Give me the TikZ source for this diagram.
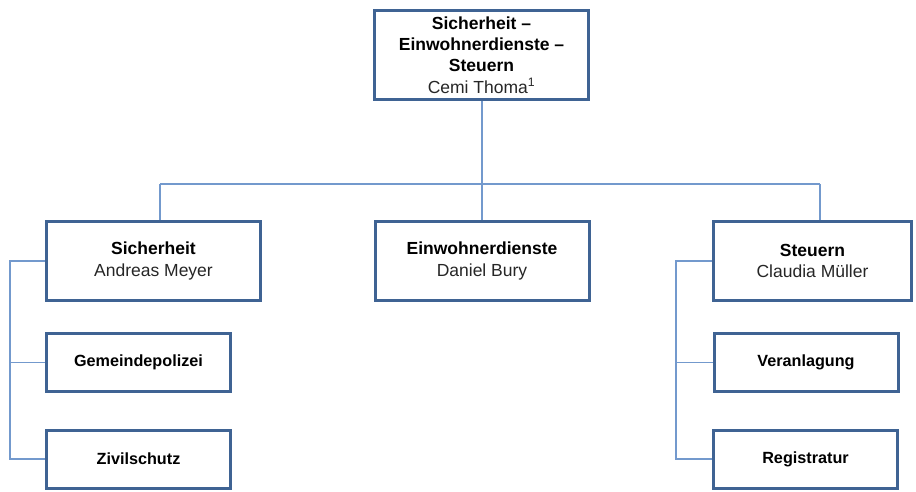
\documentclass[tikz,border=0pt]{standalone}
\usepackage{fontspec}
\setmainfont{Liberation Sans}
\usepackage{tikz}
\usetikzlibrary{positioning,calc}
\definecolor{boxblue}{HTML}{3F6393}
\definecolor{linkblue}{HTML}{7399CD}
\definecolor{nametext}{HTML}{262626}

\begin{document}
\begin{tikzpicture}[x=1pt,y=-1pt,every node/.style={font=\fontsize{17.5}{21.3}\selectfont,align=center,inner sep=0pt},unit/.style={draw=boxblue,line width=3pt,minimum width=214pt,minimum height=79pt},sub/.style={draw=boxblue,line width=3pt,minimum width=184pt,minimum height=58pt,font=\fontsize{16.2}{20}\selectfont\bfseries},link/.style={draw=linkblue,line width=1.2pt}]
\useasboundingbox (0,0) rectangle (916,492);
\node[unit,minimum height=89pt] (head) at (481.5,55) {\textbf{Sicherheit –}\\\textbf{Einwohnerdienste –}\\\textbf{Steuern}\\\textcolor{nametext}{Cemi Thoma\textsuperscript{1}}};
\node[unit] (sich) at (153.5,261) {\textbf{Sicherheit}\\\textcolor{nametext}{Andreas Meyer}};
\node[unit] (einw) at (482,261) {\textbf{Einwohnerdienste}\\\textcolor{nametext}{Daniel Bury}};
\node[unit,minimum width=198pt] (steu) at (812.5,261) {\textbf{Steuern}\\\textcolor{nametext}{Claudia Müller}};
\node[sub] (gpol) at (138.5,362.5) {Gemeindepolizei}; \node[sub] (ziv) at (138.5,459) {Zivilschutz};
\node[sub] (veran) at (806,362.5) {Veranlagung}; \node[sub] (reg) at (805.5,459) {Registratur};
% bus below the head
\coordinate (busL) at (160,184); \coordinate (busM) at (482,184); \coordinate (busR) at (820,184);
\draw[link] (head.south -| busM) -- (busM); \draw[link] (busL) -- (busR);
\draw[link] (busL) -- (busL |- sich.north); \draw[link] (busM) -- (einw.north); \draw[link] (busR) -- (busR |- steu.north);
% side links
\coordinate (spineL) at (10,0); \coordinate (spineR) at (676,0);
\draw[link] (sich.west) -- (sich.west -| spineL) |- (ziv.west); \draw[link] (gpol.west) -- (gpol.west -| spineL);
\draw[link] (steu.west) -- (steu.west -| spineR) |- (reg.west); \draw[link] (veran.west) -- (veran.west -| spineR);
\end{tikzpicture}
\end{document}
